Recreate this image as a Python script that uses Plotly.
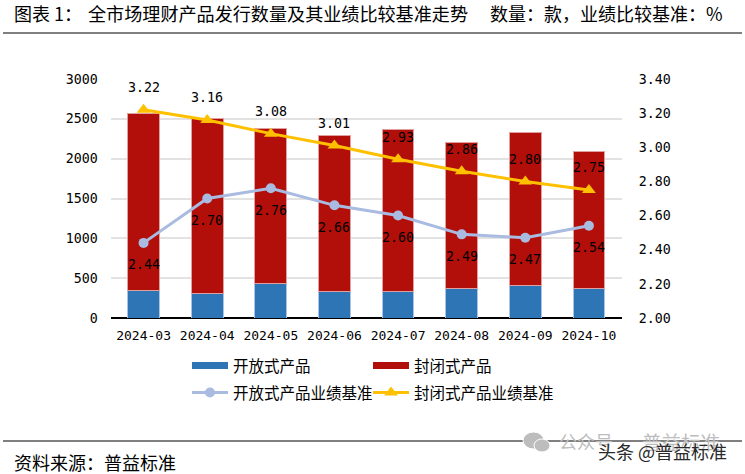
import plotly.graph_objects as go

months = ["2024-03","2024-04","2024-05","2024-06","2024-07","2024-08","2024-09","2024-10"]
open_count = [339, 310, 435, 335, 335, 373, 414, 368]
closed_count = [2230, 2196, 1945, 1962, 2025, 1827, 1917, 1728]
open_bench = [2.44, 2.70, 2.76, 2.66, 2.60, 2.49, 2.47, 2.54]
closed_bench = [3.22, 3.16, 3.08, 3.01, 2.93, 2.86, 2.80, 2.75]
left_ticks = [0, 500, 1000, 1500, 2000, 2500, 3000]
right_ticks = [2.0, 2.2, 2.4, 2.6, 2.8, 3.0, 3.2, 3.4]

CJK = "Noto Sans CJK SC"
MONO = "DejaVu Sans Mono"
BLUE, RED, LBLUE, GOLD = "#2E75B6", "#B30F0A", "#A9BBE0", "#FFC000"
CLEAR = "rgba(0,0,0,0)"

fig = go.Figure()
fig.add_bar(x=months, y=open_count, name="开放式产品", marker=dict(color=BLUE, line=dict(color="#A9C4E6", width=1)), showlegend=False)
fig.add_bar(x=months, y=closed_count, name="封闭式产品", marker=dict(color=RED, line=dict(color="#E0A0A0", width=1)), showlegend=False)
fig.add_scatter(x=[None], y=[None], mode="lines", name="开放式产品", line=dict(color=BLUE, width=7), legend="legend")
fig.add_scatter(x=[None], y=[None], mode="lines", name="封闭式产品", line=dict(color=RED, width=7), legend="legend2")
fig.add_scatter(x=months, y=open_bench, yaxis="y2", mode="lines+markers", name="开放式产品业绩基准",
                line=dict(color=LBLUE, width=3), marker=dict(color=LBLUE, size=10, symbol="circle"), legend="legend3")
fig.add_scatter(x=months, y=closed_bench, yaxis="y2", mode="lines+markers", name="封闭式产品业绩基准",
                line=dict(color=GOLD, width=3), marker=dict(color=GOLD, size=12, symbol="triangle-up"), legend="legend4")

annotations = []
for m, v in zip(months, open_bench):
    annotations.append(dict(x=m, y=v, xref="x", yref="y2", text=f"{v:.2f}", showarrow=False, yshift=-22,
                            font=dict(family=MONO, size=13.3, color="black")))
for m, v in zip(months, closed_bench):
    annotations.append(dict(x=m, y=v, xref="x", yref="y2", text=f"{v:.2f}", showarrow=False, yshift=22,
                            font=dict(family=MONO, size=13.3, color="black")))
W, H = 745, 474
def text(x, y, s, size=18, color="black", family=CJK):
    annotations.append(dict(x=x/W, y=1-y/H, xref="paper", yref="paper", text=s, showarrow=False, xanchor="left", yanchor="middle",
                            font=dict(family=family, size=size, color=color)))
text(12, 13, "图表 1：")
text(86, 13, "全市场理财产品发行数量及其业绩比较基准走势", 18.1)
text(488, 13, "数量：款，业绩比较基准：%")
text(12, 462, "资料来源：普益标准")
text(557, 441, "公众号", 18, "#BDBDBD")
text(640, 441, "普益标准", 19.5, "#BDBDBD")
text(596, 451, "头条 @普益标准", 18, "#2A2A2A")

def rule(y):
    return dict(type="line", xref="paper", yref="paper", x0=3/W, x1=742/W, y0=1-y/H, y1=1-y/H, line=dict(color="black", width=1.2))
def blob(x0, y0, x1, y1):
    return dict(type="circle", xref="paper", yref="paper", x0=x0/W, x1=x1/W, y0=1-y1/H, y1=1-y0/H,
                fillcolor="#BDBDBD", line=dict(color="white", width=1))
shapes = [rule(33), rule(441), blob(523, 432, 544, 449), blob(534, 439, 550, 452)]

legend_common = dict(orientation="h", xanchor="left", yanchor="middle", traceorder="normal",
                     itemwidth=36, font=dict(family=CJK, size=15.5, color="black"), bgcolor=CLEAR)

fig.update_layout(
    width=W, height=H, autosize=False, barmode="stack", plot_bgcolor="white", paper_bgcolor="white",
    margin=dict(l=0, r=0, t=0, b=0), bargap=0.5,
    xaxis=dict(type="category", domain=[110.5/W, 622/W], anchor="y", categoryorder="array", categoryarray=months, showgrid=False, showline=False,
               automargin=False, ticks="outside", ticklen=5, tickcolor=CLEAR, tickfont=dict(family=MONO, size=13, color="black")),
    yaxis=dict(range=[0, 3000], tickvals=left_ticks, domain=[1-318/H, 1-79/H], showgrid=True, gridcolor="#E2E2E2", gridwidth=1.5,
               automargin=False, zeroline=True, zerolinecolor="black", zerolinewidth=1.5, ticks="outside", ticklen=9, tickcolor=CLEAR,
               tickfont=dict(family=MONO, size=13.3, color="black")),
    yaxis2=dict(range=[2.0, 3.4], tickvals=right_ticks, tickformat=".2f", overlaying="y", side="right", anchor="x", showgrid=False,
                automargin=False, zeroline=False, ticks="outside", ticklen=13, tickcolor=CLEAR, tickfont=dict(family=MONO, size=13.3, color="black")),
    legend=dict(x=187/W, y=1-366/H, **legend_common),
    legend2=dict(x=368/W, y=1-366/H, **legend_common),
    legend3=dict(x=187/W, y=1-393/H, **legend_common),
    legend4=dict(x=368/W, y=1-393/H, **legend_common),
    annotations=annotations, shapes=shapes,
)
fig.write_html("out.html", config={"displayModeBar": False}, post_script="document.body.style.margin='0';document.body.style.overflow='hidden';")
